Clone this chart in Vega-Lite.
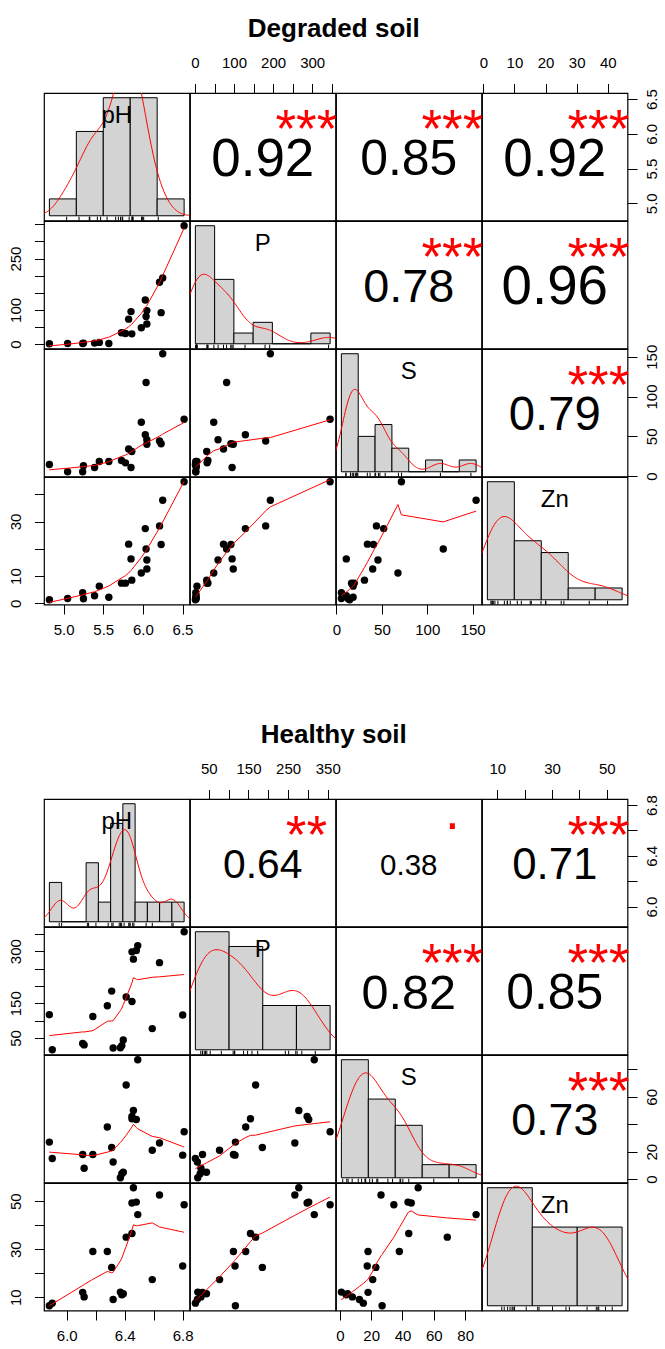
{
"padding": {"left": 7, "top": 15, "right": 5, "bottom": 5},
"spacing": 83,
"datasets": {
"deg": [
{"pH":4.82,"P":1,"S":14.5,"Zn":1.3},{"pH":5.05,"P":2,"S":5.4,"Zn":1.8},{"pH":5.24,"P":2,"S":5.4,"Zn":3.9},{"pH":5.25,"P":3,"S":12.9,"Zn":1.7},{"pH":5.39,"P":3,"S":10.8,"Zn":2.8},{"pH":5.45,"P":5,"S":18.3,"Zn":6.3},{"pH":5.57,"P":2,"S":18.3,"Zn":2.2},{"pH":5.73,"P":33,"S":19.5,"Zn":7.4},{"pH":5.78,"P":31,"S":16.6,"Zn":7.4},{"pH":5.82,"P":73,"S":34.1,"Zn":21.7},{"pH":5.85,"P":95,"S":10.8,"Zn":16.3},{"pH":5.86,"P":30,"S":30.8,"Zn":8.5},{"pH":5.98,"P":48,"S":67.7,"Zn":11.1},{"pH":6.03,"P":129,"S":52,"Zn":27.4},{"pH":6.04,"P":81,"S":117.6,"Zn":19.9},{"pH":6.05,"P":59,"S":45.7,"Zn":15.9},{"pH":6.05,"P":98,"S":39.9,"Zn":12.6},{"pH":6.21,"P":181,"S":44,"Zn":28.4},{"pH":6.23,"P":92,"S":40.7,"Zn":21.6},{"pH":6.25,"P":193,"S":153.8,"Zn":37.8},{"pH":6.52,"P":346,"S":71.5,"Zn":44.6}
],
"hea": [
{"pH":5.88,"P":117,"S":27,"Zn":6.4},{"pH":5.90,"P":16,"S":15,"Zn":7.5},{"pH":6.11,"P":34,"S":18,"Zn":12.0},{"pH":6.12,"P":30,"S":8,"Zn":10.1},{"pH":6.18,"P":112,"S":18,"Zn":29},{"pH":6.28,"P":143,"S":38,"Zn":29},{"pH":6.31,"P":185,"S":23,"Zn":22.4},{"pH":6.32,"P":21,"S":12.5,"Zn":9.0},{"pH":6.37,"P":22,"S":1,"Zn":12.1},{"pH":6.38,"P":28,"S":4,"Zn":11},{"pH":6.39,"P":44,"S":5,"Zn":11.4},{"pH":6.41,"P":168,"S":68.6,"Zn":35},{"pH":6.45,"P":155,"S":44,"Zn":36.5},{"pH":6.45,"P":298,"S":45.6,"Zn":49.2},{"pH":6.46,"P":277,"S":50,"Zn":55.6},{"pH":6.48,"P":302,"S":43.5,"Zn":49.6},{"pH":6.49,"P":316,"S":87,"Zn":44.4},{"pH":6.59,"P":77,"S":21,"Zn":17.3},{"pH":6.64,"P":267,"S":26.3,"Zn":52.6},{"pH":6.80,"P":116,"S":17.5,"Zn":23},{"pH":6.81,"P":356,"S":34.5,"Zn":48.5}
],
"degHist": [
{"v":"pH","b0":4.5,"b1":5.0,"n":1},{"v":"pH","b0":5.0,"b1":5.5,"n":5},{"v":"pH","b0":5.5,"b1":6.0,"n":7},{"v":"pH","b0":6.0,"b1":6.5,"n":7},{"v":"pH","b0":6.5,"b1":7.0,"n":1},
{"v":"P","b0":0,"b1":50,"n":11},{"v":"P","b0":50,"b1":100,"n":6},{"v":"P","b0":100,"b1":150,"n":1},{"v":"P","b0":150,"b1":200,"n":2},{"v":"P","b0":200,"b1":250,"n":0},{"v":"P","b0":250,"b1":300,"n":0},{"v":"P","b0":300,"b1":350,"n":1},
{"v":"S","b0":0,"b1":20,"n":10},{"v":"S","b0":20,"b1":40,"n":3},{"v":"S","b0":40,"b1":60,"n":4},{"v":"S","b0":60,"b1":80,"n":2},{"v":"S","b0":80,"b1":100,"n":0},{"v":"S","b0":100,"b1":120,"n":1},{"v":"S","b0":120,"b1":140,"n":0},{"v":"S","b0":140,"b1":160,"n":1},
{"v":"Zn","b0":0,"b1":10,"n":10},{"v":"Zn","b0":10,"b1":20,"n":5},{"v":"Zn","b0":20,"b1":30,"n":4},{"v":"Zn","b0":30,"b1":40,"n":1},{"v":"Zn","b0":40,"b1":50,"n":1}
],
"heaHist": [
{"v":"pH","b0":5.8,"b1":5.9,"n":2},{"v":"pH","b0":5.9,"b1":6.0,"n":0},{"v":"pH","b0":6.0,"b1":6.1,"n":0},{"v":"pH","b0":6.1,"b1":6.2,"n":3},{"v":"pH","b0":6.2,"b1":6.3,"n":1},{"v":"pH","b0":6.3,"b1":6.4,"n":5},{"v":"pH","b0":6.4,"b1":6.5,"n":6},{"v":"pH","b0":6.5,"b1":6.6,"n":1},{"v":"pH","b0":6.6,"b1":6.7,"n":1},{"v":"pH","b0":6.7,"b1":6.8,"n":1},{"v":"pH","b0":6.8,"b1":6.9,"n":1},
{"v":"P","b0":0,"b1":100,"n":8},{"v":"P","b0":100,"b1":200,"n":7},{"v":"P","b0":200,"b1":300,"n":3},{"v":"P","b0":300,"b1":400,"n":3},
{"v":"S","b0":0,"b1":20,"n":9},{"v":"S","b0":20,"b1":40,"n":6},{"v":"S","b0":40,"b1":60,"n":4},{"v":"S","b0":60,"b1":80,"n":1},{"v":"S","b0":80,"b1":100,"n":1},
{"v":"Zn","b0":0,"b1":20,"n":9},{"v":"Zn","b0":20,"b1":40,"n":6},{"v":"Zn","b0":40,"b1":60,"n":6}
],
"degCor": [
{"a":"pH","b":"P","r":0.92,"sig":"***"},{"a":"pH","b":"S","r":0.85,"sig":"***"},{"a":"pH","b":"Zn","r":0.92,"sig":"***"},{"a":"P","b":"S","r":0.78,"sig":"***"},{"a":"P","b":"Zn","r":0.96,"sig":"***"},{"a":"S","b":"Zn","r":0.79,"sig":"***"}
],
"heaCor": [
{"a":"pH","b":"P","r":0.64,"sig":"**"},{"a":"pH","b":"S","r":0.38,"sig":"."},{"a":"pH","b":"Zn","r":0.71,"sig":"***"},{"a":"P","b":"S","r":0.82,"sig":"***"},{"a":"P","b":"Zn","r":0.85,"sig":"***"},{"a":"S","b":"Zn","r":0.73,"sig":"***"}
]
},
"vconcat": [
{
"title": {"text": "Degraded soil", "offset": 13},
"columns": 4, "spacing": 0, "bounds": "flush",
"concat": [
{"width":145.5,"height":127.5,"layer":[
{"data":{"name":"degHist"},"transform":[{"filter":"datum.v == 'pH'"}],"mark":{"type":"bar","fill":"#D3D3D3","stroke":"#000","strokeWidth":1},"encoding":{"x":{"field":"b0","type":"quantitative","scale":{"domain":[4.4,7.1],"nice":false,"zero":false},"axis":null},"x2":{"field":"b1"},"y":{"field":"n","type":"quantitative","scale":{"domain":[-0.28,7.28],"nice":false,"zero":false},"axis":null},"y2":{"datum":0}}},
{"data":{"name":"deg"},"mark":{"type":"rule","color":"#000","strokeWidth":1},"encoding":{"x":{"field":"pH","type":"quantitative","scale":{"domain":[4.4,7.1],"nice":false,"zero":false},"axis":null},"y":{"datum":-0.28,"type":"quantitative","scale":{"domain":[-0.28,7.28],"nice":false,"zero":false},"axis":null},"y2":{"datum":-0.053}}},
{"data":{"name":"deg"},"transform":[{"density":"pH","bandwidth":0.214,"extent":[4.18,7.16],"steps":200}],"mark":{"type":"line","color":"#FF0000","strokeWidth":1,"clip":true},"encoding":{"x":{"field":"value","type":"quantitative","scale":{"domain":[4.4,7.1],"nice":false,"zero":false},"axis":null},"y":{"field":"density","type":"quantitative","scale":{"domain":[-0.026667,0.693333],"nice":false,"zero":false},"axis":null}}},
{"data":{"name":"degHist"},"transform":[{"filter":"datum.v == 'pH'"},{"aggregate":[{"op":"count","as":"k"}],"groupby":["v"]}],"mark":{"type":"text","font":"Liberation Sans","fontSize":24,"color":"#000","baseline":"middle","align":"center","dy":2},"encoding":{"x":{"datum":0.5,"type":"quantitative","scale":{"domain":[0,1],"nice":false,"zero":false},"axis":null},"y":{"datum":0.833,"type":"quantitative","scale":{"domain":[0,1],"nice":false,"zero":false},"axis":null},"text":{"field":"v"}}}
],"resolve":{"scale":{"x":"independent","y":"independent"}}},
{"width":145.5,"height":127.5,"layer":[
{"data":{"name":"deg"},"mark":{"type":"point","opacity":0},"encoding":{"x":{"field":"P","type":"quantitative","scale":{"domain":[-12.8,359.8],"nice":false,"zero":false},"axis":{"orient":"top","title":null,"values":[0,50,100,150,200,250,300,350],"labelExpr":"indexof([0,100,200,300], datum.value) >= 0 ? datum.label : ''"}}}},
{"data":{"name":"degCor"},"transform":[{"filter":"datum.a == 'pH' && datum.b == 'P'"}],"mark":{"type":"text","font":"Liberation Sans","color":"#000","baseline":"middle","align":"center","dy":3},"encoding":{"x":{"datum":0.5,"type":"quantitative","scale":{"domain":[0,1],"nice":false,"zero":false},"axis":null},"y":{"datum":0.5,"type":"quantitative","scale":{"domain":[0,1],"nice":false,"zero":false},"axis":null},"text":{"field":"r","type":"quantitative","format":".2f"},"size":{"field":"r","type":"quantitative","scale":{"domain":[0,1],"range":[13,56.4]},"legend":null}}},
{"data":{"name":"degCor"},"transform":[{"filter":"datum.a == 'pH' && datum.b == 'P'"}],"mark":{"type":"text","font":"Liberation Sans","color":"#FF0000","fontSize":53,"baseline":"middle","align":"center","dy":12},"encoding":{"x":{"datum":0.8,"type":"quantitative","scale":{"domain":[0,1],"nice":false,"zero":false},"axis":null},"y":{"datum":0.8,"type":"quantitative","scale":{"domain":[0,1],"nice":false,"zero":false},"axis":null},"text":{"field":"sig"}}}
],"resolve":{"scale":{"x":"independent","y":"independent"}}},
{"width":145.5,"height":127.5,"layer":[
{"data":{"name":"degCor"},"transform":[{"filter":"datum.a == 'pH' && datum.b == 'S'"}],"mark":{"type":"text","font":"Liberation Sans","color":"#000","baseline":"middle","align":"center","dy":3},"encoding":{"x":{"datum":0.5,"type":"quantitative","scale":{"domain":[0,1],"nice":false,"zero":false},"axis":null},"y":{"datum":0.5,"type":"quantitative","scale":{"domain":[0,1],"nice":false,"zero":false},"axis":null},"text":{"field":"r","type":"quantitative","format":".2f"},"size":{"field":"r","type":"quantitative","scale":{"domain":[0,1],"range":[13,56.4]},"legend":null}}},
{"data":{"name":"degCor"},"transform":[{"filter":"datum.a == 'pH' && datum.b == 'S'"}],"mark":{"type":"text","font":"Liberation Sans","color":"#FF0000","fontSize":53,"baseline":"middle","align":"center","dy":12},"encoding":{"x":{"datum":0.8,"type":"quantitative","scale":{"domain":[0,1],"nice":false,"zero":false},"axis":null},"y":{"datum":0.8,"type":"quantitative","scale":{"domain":[0,1],"nice":false,"zero":false},"axis":null},"text":{"field":"sig"}}}
],"resolve":{"scale":{"x":"independent","y":"independent"}}},
{"width":145.5,"height":127.5,"layer":[
{"data":{"name":"deg"},"mark":{"type":"point","opacity":0},"encoding":{"x":{"field":"Zn","type":"quantitative","scale":{"domain":[-0.43,46.33],"nice":false,"zero":false},"axis":{"orient":"top","title":null,"values":[0,10,20,30,40]}},"y":{"field":"pH","type":"quantitative","scale":{"domain":[4.752,6.588],"nice":false,"zero":false},"axis":{"orient":"right","title":null,"values":[5,5.5,6,6.5],"format":".1f","labelAngle":-90}}}},
{"data":{"name":"degCor"},"transform":[{"filter":"datum.a == 'pH' && datum.b == 'Zn'"}],"mark":{"type":"text","font":"Liberation Sans","color":"#000","baseline":"middle","align":"center","dy":3},"encoding":{"x":{"datum":0.5,"type":"quantitative","scale":{"domain":[0,1],"nice":false,"zero":false},"axis":null},"y":{"datum":0.5,"type":"quantitative","scale":{"domain":[0,1],"nice":false,"zero":false},"axis":null},"text":{"field":"r","type":"quantitative","format":".2f"},"size":{"field":"r","type":"quantitative","scale":{"domain":[0,1],"range":[13,56.4]},"legend":null}}},
{"data":{"name":"degCor"},"transform":[{"filter":"datum.a == 'pH' && datum.b == 'Zn'"}],"mark":{"type":"text","font":"Liberation Sans","color":"#FF0000","fontSize":53,"baseline":"middle","align":"center","dy":12},"encoding":{"x":{"datum":0.8,"type":"quantitative","scale":{"domain":[0,1],"nice":false,"zero":false},"axis":null},"y":{"datum":0.8,"type":"quantitative","scale":{"domain":[0,1],"nice":false,"zero":false},"axis":null},"text":{"field":"sig"}}}
],"resolve":{"scale":{"x":"independent","y":"independent"}}},

{"width":145.5,"height":127.5,"data":{"name":"deg"},"encoding":{"x":{"field":"pH","type":"quantitative","scale":{"domain":[4.752,6.588],"nice":false,"zero":false},"axis":null},"y":{"field":"P","type":"quantitative","scale":{"domain":[-12.8,359.8],"nice":false,"zero":false},"axis":{"orient":"left","title":null,"values":[0,50,100,150,200,250,300,350],"labelAngle":-90,"labelExpr":"indexof([0,100,250], datum.value) >= 0 ? datum.label : ''"}}},"layer":[
{"mark":{"type":"circle","size":55,"color":"#000","opacity":1}},
{"transform":[{"loess":"P","on":"pH","bandwidth":0.6667}],"mark":{"type":"line","color":"#FF0000","strokeWidth":1,"clip":true}}]},
{"width":145.5,"height":127.5,"layer":[
{"data":{"name":"degHist"},"transform":[{"filter":"datum.v == 'P'"}],"mark":{"type":"bar","fill":"#D3D3D3","stroke":"#000","strokeWidth":1},"encoding":{"x":{"field":"b0","type":"quantitative","scale":{"domain":[-14,364],"nice":false,"zero":false},"axis":null},"x2":{"field":"b1"},"y":{"field":"n","type":"quantitative","scale":{"domain":[-0.44,11.44],"nice":false,"zero":false},"axis":null},"y2":{"datum":0}}},
{"data":{"name":"deg"},"mark":{"type":"rule","color":"#000","strokeWidth":1},"encoding":{"x":{"field":"P","type":"quantitative","scale":{"domain":[-14,364],"nice":false,"zero":false},"axis":null},"y":{"datum":-0.44,"type":"quantitative","scale":{"domain":[-0.44,11.44],"nice":false,"zero":false},"axis":null},"y2":{"datum":-0.084}}},
{"data":{"name":"deg"},"transform":[{"density":"P","bandwidth":33.6,"extent":[-100,447],"steps":200}],"mark":{"type":"line","color":"#FF0000","strokeWidth":1,"clip":true},"encoding":{"x":{"field":"value","type":"quantitative","scale":{"domain":[-14,364],"nice":false,"zero":false},"axis":null},"y":{"field":"density","type":"quantitative","scale":{"domain":[-0.000419,0.0108952],"nice":false,"zero":false},"axis":null}}},
{"data":{"name":"degHist"},"transform":[{"filter":"datum.v == 'P'"},{"aggregate":[{"op":"count","as":"k"}],"groupby":["v"]}],"mark":{"type":"text","font":"Liberation Sans","fontSize":24,"color":"#000","baseline":"middle","align":"center","dy":2},"encoding":{"x":{"datum":0.5,"type":"quantitative","scale":{"domain":[0,1],"nice":false,"zero":false},"axis":null},"y":{"datum":0.833,"type":"quantitative","scale":{"domain":[0,1],"nice":false,"zero":false},"axis":null},"text":{"field":"v"}}}
],"resolve":{"scale":{"x":"independent","y":"independent"}}},
{"width":145.5,"height":127.5,"layer":[
{"data":{"name":"degCor"},"transform":[{"filter":"datum.a == 'P' && datum.b == 'S'"}],"mark":{"type":"text","font":"Liberation Sans","color":"#000","baseline":"middle","align":"center","dy":3},"encoding":{"x":{"datum":0.5,"type":"quantitative","scale":{"domain":[0,1],"nice":false,"zero":false},"axis":null},"y":{"datum":0.5,"type":"quantitative","scale":{"domain":[0,1],"nice":false,"zero":false},"axis":null},"text":{"field":"r","type":"quantitative","format":".2f"},"size":{"field":"r","type":"quantitative","scale":{"domain":[0,1],"range":[13,56.4]},"legend":null}}},
{"data":{"name":"degCor"},"transform":[{"filter":"datum.a == 'P' && datum.b == 'S'"}],"mark":{"type":"text","font":"Liberation Sans","color":"#FF0000","fontSize":53,"baseline":"middle","align":"center","dy":12},"encoding":{"x":{"datum":0.8,"type":"quantitative","scale":{"domain":[0,1],"nice":false,"zero":false},"axis":null},"y":{"datum":0.8,"type":"quantitative","scale":{"domain":[0,1],"nice":false,"zero":false},"axis":null},"text":{"field":"sig"}}}
],"resolve":{"scale":{"x":"independent","y":"independent"}}},
{"width":145.5,"height":127.5,"layer":[
{"data":{"name":"degCor"},"transform":[{"filter":"datum.a == 'P' && datum.b == 'Zn'"}],"mark":{"type":"text","font":"Liberation Sans","color":"#000","baseline":"middle","align":"center","dy":3},"encoding":{"x":{"datum":0.5,"type":"quantitative","scale":{"domain":[0,1],"nice":false,"zero":false},"axis":null},"y":{"datum":0.5,"type":"quantitative","scale":{"domain":[0,1],"nice":false,"zero":false},"axis":null},"text":{"field":"r","type":"quantitative","format":".2f"},"size":{"field":"r","type":"quantitative","scale":{"domain":[0,1],"range":[13,56.4]},"legend":null}}},
{"data":{"name":"degCor"},"transform":[{"filter":"datum.a == 'P' && datum.b == 'Zn'"}],"mark":{"type":"text","font":"Liberation Sans","color":"#FF0000","fontSize":53,"baseline":"middle","align":"center","dy":12},"encoding":{"x":{"datum":0.8,"type":"quantitative","scale":{"domain":[0,1],"nice":false,"zero":false},"axis":null},"y":{"datum":0.8,"type":"quantitative","scale":{"domain":[0,1],"nice":false,"zero":false},"axis":null},"text":{"field":"sig"}}}
],"resolve":{"scale":{"x":"independent","y":"independent"}}},

{"width":145.5,"height":127.5,"data":{"name":"deg"},"encoding":{"x":{"field":"pH","type":"quantitative","scale":{"domain":[4.752,6.588],"nice":false,"zero":false},"axis":null},"y":{"field":"S","type":"quantitative","scale":{"domain":[-0.54,159.74],"nice":false,"zero":false},"axis":null}},"layer":[
{"mark":{"type":"circle","size":55,"color":"#000","opacity":1}},
{"transform":[{"loess":"S","on":"pH","bandwidth":0.6667}],"mark":{"type":"line","color":"#FF0000","strokeWidth":1,"clip":true}}]},
{"width":145.5,"height":127.5,"data":{"name":"deg"},"encoding":{"x":{"field":"P","type":"quantitative","scale":{"domain":[-12.8,359.8],"nice":false,"zero":false},"axis":null},"y":{"field":"S","type":"quantitative","scale":{"domain":[-0.54,159.74],"nice":false,"zero":false},"axis":null}},"layer":[
{"mark":{"type":"circle","size":55,"color":"#000","opacity":1}},
{"transform":[{"loess":"S","on":"P","bandwidth":0.6667}],"mark":{"type":"line","color":"#FF0000","strokeWidth":1,"clip":true}}]},
{"width":145.5,"height":127.5,"layer":[
{"data":{"name":"degHist"},"transform":[{"filter":"datum.v == 'S'"}],"mark":{"type":"bar","fill":"#D3D3D3","stroke":"#000","strokeWidth":1},"encoding":{"x":{"field":"b0","type":"quantitative","scale":{"domain":[-6.4,166.4],"nice":false,"zero":false},"axis":null},"x2":{"field":"b1"},"y":{"field":"n","type":"quantitative","scale":{"domain":[-0.4,10.4],"nice":false,"zero":false},"axis":null},"y2":{"datum":0}}},
{"data":{"name":"deg"},"mark":{"type":"rule","color":"#000","strokeWidth":1},"encoding":{"x":{"field":"S","type":"quantitative","scale":{"domain":[-6.4,166.4],"nice":false,"zero":false},"axis":null},"y":{"datum":-0.4,"type":"quantitative","scale":{"domain":[-0.4,10.4],"nice":false,"zero":false},"axis":null},"y2":{"datum":-0.076}}},
{"data":{"name":"deg"},"transform":[{"density":"S","bandwidth":11.4,"extent":[-29,188],"steps":200}],"mark":{"type":"line","color":"#FF0000","strokeWidth":1,"clip":true},"encoding":{"x":{"field":"value","type":"quantitative","scale":{"domain":[-6.4,166.4],"nice":false,"zero":false},"axis":null},"y":{"field":"density","type":"quantitative","scale":{"domain":[-0.000952,0.0247619],"nice":false,"zero":false},"axis":null}}},
{"data":{"name":"degHist"},"transform":[{"filter":"datum.v == 'S'"},{"aggregate":[{"op":"count","as":"k"}],"groupby":["v"]}],"mark":{"type":"text","font":"Liberation Sans","fontSize":24,"color":"#000","baseline":"middle","align":"center","dy":2},"encoding":{"x":{"datum":0.5,"type":"quantitative","scale":{"domain":[0,1],"nice":false,"zero":false},"axis":null},"y":{"datum":0.833,"type":"quantitative","scale":{"domain":[0,1],"nice":false,"zero":false},"axis":null},"text":{"field":"v"}}}
],"resolve":{"scale":{"x":"independent","y":"independent"}}},
{"width":145.5,"height":127.5,"layer":[
{"data":{"name":"deg"},"mark":{"type":"point","opacity":0},"encoding":{"y":{"field":"S","type":"quantitative","scale":{"domain":[-0.54,159.74],"nice":false,"zero":false},"axis":{"orient":"right","title":null,"values":[0,50,100,150],"labelAngle":-90}}}},
{"data":{"name":"degCor"},"transform":[{"filter":"datum.a == 'S' && datum.b == 'Zn'"}],"mark":{"type":"text","font":"Liberation Sans","color":"#000","baseline":"middle","align":"center","dy":3},"encoding":{"x":{"datum":0.5,"type":"quantitative","scale":{"domain":[0,1],"nice":false,"zero":false},"axis":null},"y":{"datum":0.5,"type":"quantitative","scale":{"domain":[0,1],"nice":false,"zero":false},"axis":null},"text":{"field":"r","type":"quantitative","format":".2f"},"size":{"field":"r","type":"quantitative","scale":{"domain":[0,1],"range":[13,56.4]},"legend":null}}},
{"data":{"name":"degCor"},"transform":[{"filter":"datum.a == 'S' && datum.b == 'Zn'"}],"mark":{"type":"text","font":"Liberation Sans","color":"#FF0000","fontSize":53,"baseline":"middle","align":"center","dy":12},"encoding":{"x":{"datum":0.8,"type":"quantitative","scale":{"domain":[0,1],"nice":false,"zero":false},"axis":null},"y":{"datum":0.8,"type":"quantitative","scale":{"domain":[0,1],"nice":false,"zero":false},"axis":null},"text":{"field":"sig"}}}
],"resolve":{"scale":{"x":"independent","y":"independent"}}},

{"width":145.5,"height":127.5,"data":{"name":"deg"},"encoding":{"x":{"field":"pH","type":"quantitative","scale":{"domain":[4.752,6.588],"nice":false,"zero":false},"axis":{"orient":"bottom","title":null,"values":[5,5.5,6,6.5],"format":".1f"}},"y":{"field":"Zn","type":"quantitative","scale":{"domain":[-0.43,46.33],"nice":false,"zero":false},"axis":{"orient":"left","title":null,"values":[0,10,20,30,40],"labelAngle":-90,"labelExpr":"indexof([0,10,30], datum.value) >= 0 ? datum.label : ''"}}},"layer":[
{"mark":{"type":"circle","size":55,"color":"#000","opacity":1}},
{"transform":[{"loess":"Zn","on":"pH","bandwidth":0.6667}],"mark":{"type":"line","color":"#FF0000","strokeWidth":1,"clip":true}}]},
{"width":145.5,"height":127.5,"data":{"name":"deg"},"encoding":{"x":{"field":"P","type":"quantitative","scale":{"domain":[-12.8,359.8],"nice":false,"zero":false},"axis":null},"y":{"field":"Zn","type":"quantitative","scale":{"domain":[-0.43,46.33],"nice":false,"zero":false},"axis":null}},"layer":[
{"mark":{"type":"circle","size":55,"color":"#000","opacity":1}},
{"transform":[{"loess":"Zn","on":"P","bandwidth":0.6667}],"mark":{"type":"line","color":"#FF0000","strokeWidth":1,"clip":true}}]},
{"width":145.5,"height":127.5,"data":{"name":"deg"},"encoding":{"x":{"field":"S","type":"quantitative","scale":{"domain":[-0.54,159.74],"nice":false,"zero":false},"axis":{"orient":"bottom","title":null,"values":[0,50,100,150]}},"y":{"field":"Zn","type":"quantitative","scale":{"domain":[-0.43,46.33],"nice":false,"zero":false},"axis":null}},"layer":[
{"mark":{"type":"circle","size":55,"color":"#000","opacity":1}},
{"transform":[{"loess":"Zn","on":"S","bandwidth":0.6667}],"mark":{"type":"line","color":"#FF0000","strokeWidth":1,"clip":true}}]},
{"width":145.5,"height":127.5,"layer":[
{"data":{"name":"degHist"},"transform":[{"filter":"datum.v == 'Zn'"}],"mark":{"type":"bar","fill":"#D3D3D3","stroke":"#000","strokeWidth":1},"encoding":{"x":{"field":"b0","type":"quantitative","scale":{"domain":[-2,52],"nice":false,"zero":false},"axis":null},"x2":{"field":"b1"},"y":{"field":"n","type":"quantitative","scale":{"domain":[-0.4,10.4],"nice":false,"zero":false},"axis":null},"y2":{"datum":0}}},
{"data":{"name":"deg"},"mark":{"type":"rule","color":"#000","strokeWidth":1},"encoding":{"x":{"field":"Zn","type":"quantitative","scale":{"domain":[-2,52],"nice":false,"zero":false},"axis":null},"y":{"datum":-0.4,"type":"quantitative","scale":{"domain":[-0.4,10.4],"nice":false,"zero":false},"axis":null},"y2":{"datum":-0.076}}},
{"data":{"name":"deg"},"transform":[{"density":"Zn","bandwidth":6.06,"extent":[-17,63],"steps":200}],"mark":{"type":"line","color":"#FF0000","strokeWidth":1,"clip":true},"encoding":{"x":{"field":"value","type":"quantitative","scale":{"domain":[-2,52],"nice":false,"zero":false},"axis":null},"y":{"field":"density","type":"quantitative","scale":{"domain":[-0.001905,0.0495238],"nice":false,"zero":false},"axis":null}}},
{"data":{"name":"degHist"},"transform":[{"filter":"datum.v == 'Zn'"},{"aggregate":[{"op":"count","as":"k"}],"groupby":["v"]}],"mark":{"type":"text","font":"Liberation Sans","fontSize":24,"color":"#000","baseline":"middle","align":"center","dy":2},"encoding":{"x":{"datum":0.5,"type":"quantitative","scale":{"domain":[0,1],"nice":false,"zero":false},"axis":null},"y":{"datum":0.833,"type":"quantitative","scale":{"domain":[0,1],"nice":false,"zero":false},"axis":null},"text":{"field":"v"}}}
],"resolve":{"scale":{"x":"independent","y":"independent"}}}
]
},
{
"title": {"text": "Healthy soil", "offset": 13},
"columns": 4, "spacing": 0, "bounds": "flush",
"concat": [
{"width":145.5,"height":127.5,"layer":[
{"data":{"name":"heaHist"},"transform":[{"filter":"datum.v == 'pH'"}],"mark":{"type":"bar","fill":"#D3D3D3","stroke":"#000","strokeWidth":1},"encoding":{"x":{"field":"b0","type":"quantitative","scale":{"domain":[5.756,6.944],"nice":false,"zero":false},"axis":null},"x2":{"field":"b1"},"y":{"field":"n","type":"quantitative","scale":{"domain":[-0.24,6.24],"nice":false,"zero":false},"axis":null},"y2":{"datum":0}}},
{"data":{"name":"hea"},"mark":{"type":"rule","color":"#000","strokeWidth":1},"encoding":{"x":{"field":"pH","type":"quantitative","scale":{"domain":[5.756,6.944],"nice":false,"zero":false},"axis":null},"y":{"datum":-0.24,"type":"quantitative","scale":{"domain":[-0.24,6.24],"nice":false,"zero":false},"axis":null},"y2":{"datum":-0.046}}},
{"data":{"name":"hea"},"transform":[{"density":"pH","bandwidth":0.073,"extent":[5.66,7.03],"steps":200}],"mark":{"type":"line","color":"#FF0000","strokeWidth":1,"clip":true},"encoding":{"x":{"field":"value","type":"quantitative","scale":{"domain":[5.756,6.944],"nice":false,"zero":false},"axis":null},"y":{"field":"density","type":"quantitative","scale":{"domain":[-0.114286,2.971429],"nice":false,"zero":false},"axis":null}}},
{"data":{"name":"heaHist"},"transform":[{"filter":"datum.v == 'pH'"},{"aggregate":[{"op":"count","as":"k"}],"groupby":["v"]}],"mark":{"type":"text","font":"Liberation Sans","fontSize":24,"color":"#000","baseline":"middle","align":"center","dy":2},"encoding":{"x":{"datum":0.5,"type":"quantitative","scale":{"domain":[0,1],"nice":false,"zero":false},"axis":null},"y":{"datum":0.833,"type":"quantitative","scale":{"domain":[0,1],"nice":false,"zero":false},"axis":null},"text":{"field":"v"}}}
],"resolve":{"scale":{"x":"independent","y":"independent"}}},
{"width":145.5,"height":127.5,"layer":[
{"data":{"name":"hea"},"mark":{"type":"point","opacity":0},"encoding":{"x":{"field":"P","type":"quantitative","scale":{"domain":[2.4,369.6],"nice":false,"zero":false},"axis":{"orient":"top","title":null,"values":[50,100,150,200,250,300,350],"labelExpr":"indexof([50,150,250,350], datum.value) >= 0 ? datum.label : ''"}}}},
{"data":{"name":"heaCor"},"transform":[{"filter":"datum.a == 'pH' && datum.b == 'P'"}],"mark":{"type":"text","font":"Liberation Sans","color":"#000","baseline":"middle","align":"center","dy":3},"encoding":{"x":{"datum":0.5,"type":"quantitative","scale":{"domain":[0,1],"nice":false,"zero":false},"axis":null},"y":{"datum":0.5,"type":"quantitative","scale":{"domain":[0,1],"nice":false,"zero":false},"axis":null},"text":{"field":"r","type":"quantitative","format":".2f"},"size":{"field":"r","type":"quantitative","scale":{"domain":[0,1],"range":[13,56.4]},"legend":null}}},
{"data":{"name":"heaCor"},"transform":[{"filter":"datum.a == 'pH' && datum.b == 'P'"}],"mark":{"type":"text","font":"Liberation Sans","color":"#FF0000","fontSize":53,"baseline":"middle","align":"center","dy":12},"encoding":{"x":{"datum":0.8,"type":"quantitative","scale":{"domain":[0,1],"nice":false,"zero":false},"axis":null},"y":{"datum":0.8,"type":"quantitative","scale":{"domain":[0,1],"nice":false,"zero":false},"axis":null},"text":{"field":"sig"}}}
],"resolve":{"scale":{"x":"independent","y":"independent"}}},
{"width":145.5,"height":127.5,"layer":[
{"data":{"name":"heaCor"},"transform":[{"filter":"datum.a == 'pH' && datum.b == 'S'"}],"mark":{"type":"text","font":"Liberation Sans","color":"#000","baseline":"middle","align":"center","dy":3},"encoding":{"x":{"datum":0.5,"type":"quantitative","scale":{"domain":[0,1],"nice":false,"zero":false},"axis":null},"y":{"datum":0.5,"type":"quantitative","scale":{"domain":[0,1],"nice":false,"zero":false},"axis":null},"text":{"field":"r","type":"quantitative","format":".2f"},"size":{"field":"r","type":"quantitative","scale":{"domain":[0,1],"range":[13,56.4]},"legend":null}}},
{"data":{"name":"heaCor"},"transform":[{"filter":"datum.a == 'pH' && datum.b == 'S'"}],"mark":{"type":"text","font":"Liberation Sans","color":"#FF0000","fontSize":53,"baseline":"middle","align":"center","dy":-12},"encoding":{"x":{"datum":0.8,"type":"quantitative","scale":{"domain":[0,1],"nice":false,"zero":false},"axis":null},"y":{"datum":0.8,"type":"quantitative","scale":{"domain":[0,1],"nice":false,"zero":false},"axis":null},"text":{"field":"sig"}}}
],"resolve":{"scale":{"x":"independent","y":"independent"}}},
{"width":145.5,"height":127.5,"layer":[
{"data":{"name":"hea"},"mark":{"type":"point","opacity":0},"encoding":{"x":{"field":"Zn","type":"quantitative","scale":{"domain":[4.43,57.57],"nice":false,"zero":false},"axis":{"orient":"top","title":null,"values":[10,20,30,40,50],"labelExpr":"indexof([10,30,50], datum.value) >= 0 ? datum.label : ''"}},"y":{"field":"pH","type":"quantitative","scale":{"domain":[5.843,6.847],"nice":false,"zero":false},"axis":{"orient":"right","title":null,"values":[6,6.2,6.4,6.6,6.8],"format":".1f","labelAngle":-90,"labelExpr":"indexof([6,6.4,6.8], datum.value) >= 0 ? datum.label : ''"}}}},
{"data":{"name":"heaCor"},"transform":[{"filter":"datum.a == 'pH' && datum.b == 'Zn'"}],"mark":{"type":"text","font":"Liberation Sans","color":"#000","baseline":"middle","align":"center","dy":3},"encoding":{"x":{"datum":0.5,"type":"quantitative","scale":{"domain":[0,1],"nice":false,"zero":false},"axis":null},"y":{"datum":0.5,"type":"quantitative","scale":{"domain":[0,1],"nice":false,"zero":false},"axis":null},"text":{"field":"r","type":"quantitative","format":".2f"},"size":{"field":"r","type":"quantitative","scale":{"domain":[0,1],"range":[13,56.4]},"legend":null}}},
{"data":{"name":"heaCor"},"transform":[{"filter":"datum.a == 'pH' && datum.b == 'Zn'"}],"mark":{"type":"text","font":"Liberation Sans","color":"#FF0000","fontSize":53,"baseline":"middle","align":"center","dy":12},"encoding":{"x":{"datum":0.8,"type":"quantitative","scale":{"domain":[0,1],"nice":false,"zero":false},"axis":null},"y":{"datum":0.8,"type":"quantitative","scale":{"domain":[0,1],"nice":false,"zero":false},"axis":null},"text":{"field":"sig"}}}
],"resolve":{"scale":{"x":"independent","y":"independent"}}},

{"width":145.5,"height":127.5,"data":{"name":"hea"},"encoding":{"x":{"field":"pH","type":"quantitative","scale":{"domain":[5.843,6.847],"nice":false,"zero":false},"axis":null},"y":{"field":"P","type":"quantitative","scale":{"domain":[2.4,369.6],"nice":false,"zero":false},"axis":{"orient":"left","title":null,"values":[50,100,150,200,250,300,350],"labelAngle":-90,"labelExpr":"indexof([50,150,300], datum.value) >= 0 ? datum.label : ''"}}},"layer":[
{"mark":{"type":"circle","size":55,"color":"#000","opacity":1}},
{"transform":[{"loess":"P","on":"pH","bandwidth":0.6667}],"mark":{"type":"line","color":"#FF0000","strokeWidth":1,"clip":true}}]},
{"width":145.5,"height":127.5,"layer":[
{"data":{"name":"heaHist"},"transform":[{"filter":"datum.v == 'P'"}],"mark":{"type":"bar","fill":"#D3D3D3","stroke":"#000","strokeWidth":1},"encoding":{"x":{"field":"b0","type":"quantitative","scale":{"domain":[-16,416],"nice":false,"zero":false},"axis":null},"x2":{"field":"b1"},"y":{"field":"n","type":"quantitative","scale":{"domain":[-0.32,8.32],"nice":false,"zero":false},"axis":null},"y2":{"datum":0}}},
{"data":{"name":"hea"},"mark":{"type":"rule","color":"#000","strokeWidth":1},"encoding":{"x":{"field":"P","type":"quantitative","scale":{"domain":[-16,416],"nice":false,"zero":false},"axis":null},"y":{"datum":-0.32,"type":"quantitative","scale":{"domain":[-0.32,8.32],"nice":false,"zero":false},"axis":null},"y2":{"datum":-0.061}}},
{"data":{"name":"hea"},"transform":[{"density":"P","bandwidth":55.8,"extent":[-152,524],"steps":200}],"mark":{"type":"line","color":"#FF0000","strokeWidth":1,"clip":true},"encoding":{"x":{"field":"value","type":"quantitative","scale":{"domain":[-16,416],"nice":false,"zero":false},"axis":null},"y":{"field":"density","type":"quantitative","scale":{"domain":[-0.000152,0.0039619],"nice":false,"zero":false},"axis":null}}},
{"data":{"name":"heaHist"},"transform":[{"filter":"datum.v == 'P'"},{"aggregate":[{"op":"count","as":"k"}],"groupby":["v"]}],"mark":{"type":"text","font":"Liberation Sans","fontSize":24,"color":"#000","baseline":"middle","align":"center","dy":2},"encoding":{"x":{"datum":0.5,"type":"quantitative","scale":{"domain":[0,1],"nice":false,"zero":false},"axis":null},"y":{"datum":0.833,"type":"quantitative","scale":{"domain":[0,1],"nice":false,"zero":false},"axis":null},"text":{"field":"v"}}}
],"resolve":{"scale":{"x":"independent","y":"independent"}}},
{"width":145.5,"height":127.5,"layer":[
{"data":{"name":"heaCor"},"transform":[{"filter":"datum.a == 'P' && datum.b == 'S'"}],"mark":{"type":"text","font":"Liberation Sans","color":"#000","baseline":"middle","align":"center","dy":3},"encoding":{"x":{"datum":0.5,"type":"quantitative","scale":{"domain":[0,1],"nice":false,"zero":false},"axis":null},"y":{"datum":0.5,"type":"quantitative","scale":{"domain":[0,1],"nice":false,"zero":false},"axis":null},"text":{"field":"r","type":"quantitative","format":".2f"},"size":{"field":"r","type":"quantitative","scale":{"domain":[0,1],"range":[13,56.4]},"legend":null}}},
{"data":{"name":"heaCor"},"transform":[{"filter":"datum.a == 'P' && datum.b == 'S'"}],"mark":{"type":"text","font":"Liberation Sans","color":"#FF0000","fontSize":53,"baseline":"middle","align":"center","dy":12},"encoding":{"x":{"datum":0.8,"type":"quantitative","scale":{"domain":[0,1],"nice":false,"zero":false},"axis":null},"y":{"datum":0.8,"type":"quantitative","scale":{"domain":[0,1],"nice":false,"zero":false},"axis":null},"text":{"field":"sig"}}}
],"resolve":{"scale":{"x":"independent","y":"independent"}}},
{"width":145.5,"height":127.5,"layer":[
{"data":{"name":"heaCor"},"transform":[{"filter":"datum.a == 'P' && datum.b == 'Zn'"}],"mark":{"type":"text","font":"Liberation Sans","color":"#000","baseline":"middle","align":"center","dy":3},"encoding":{"x":{"datum":0.5,"type":"quantitative","scale":{"domain":[0,1],"nice":false,"zero":false},"axis":null},"y":{"datum":0.5,"type":"quantitative","scale":{"domain":[0,1],"nice":false,"zero":false},"axis":null},"text":{"field":"r","type":"quantitative","format":".2f"},"size":{"field":"r","type":"quantitative","scale":{"domain":[0,1],"range":[13,56.4]},"legend":null}}},
{"data":{"name":"heaCor"},"transform":[{"filter":"datum.a == 'P' && datum.b == 'Zn'"}],"mark":{"type":"text","font":"Liberation Sans","color":"#FF0000","fontSize":53,"baseline":"middle","align":"center","dy":12},"encoding":{"x":{"datum":0.8,"type":"quantitative","scale":{"domain":[0,1],"nice":false,"zero":false},"axis":null},"y":{"datum":0.8,"type":"quantitative","scale":{"domain":[0,1],"nice":false,"zero":false},"axis":null},"text":{"field":"sig"}}}
],"resolve":{"scale":{"x":"independent","y":"independent"}}},

{"width":145.5,"height":127.5,"data":{"name":"hea"},"encoding":{"x":{"field":"pH","type":"quantitative","scale":{"domain":[5.843,6.847],"nice":false,"zero":false},"axis":null},"y":{"field":"S","type":"quantitative","scale":{"domain":[-2.44,90.44],"nice":false,"zero":false},"axis":null}},"layer":[
{"mark":{"type":"circle","size":55,"color":"#000","opacity":1}},
{"transform":[{"loess":"S","on":"pH","bandwidth":0.6667}],"mark":{"type":"line","color":"#FF0000","strokeWidth":1,"clip":true}}]},
{"width":145.5,"height":127.5,"data":{"name":"hea"},"encoding":{"x":{"field":"P","type":"quantitative","scale":{"domain":[2.4,369.6],"nice":false,"zero":false},"axis":null},"y":{"field":"S","type":"quantitative","scale":{"domain":[-2.44,90.44],"nice":false,"zero":false},"axis":null}},"layer":[
{"mark":{"type":"circle","size":55,"color":"#000","opacity":1}},
{"transform":[{"loess":"S","on":"P","bandwidth":0.6667}],"mark":{"type":"line","color":"#FF0000","strokeWidth":1,"clip":true}}]},
{"width":145.5,"height":127.5,"layer":[
{"data":{"name":"heaHist"},"transform":[{"filter":"datum.v == 'S'"}],"mark":{"type":"bar","fill":"#D3D3D3","stroke":"#000","strokeWidth":1},"encoding":{"x":{"field":"b0","type":"quantitative","scale":{"domain":[-4,104],"nice":false,"zero":false},"axis":null},"x2":{"field":"b1"},"y":{"field":"n","type":"quantitative","scale":{"domain":[-0.36,9.36],"nice":false,"zero":false},"axis":null},"y2":{"datum":0}}},
{"data":{"name":"hea"},"mark":{"type":"rule","color":"#000","strokeWidth":1},"encoding":{"x":{"field":"S","type":"quantitative","scale":{"domain":[-4,104],"nice":false,"zero":false},"axis":null},"y":{"datum":-0.36,"type":"quantitative","scale":{"domain":[-0.36,9.36],"nice":false,"zero":false},"axis":null},"y2":{"datum":-0.068}}},
{"data":{"name":"hea"},"transform":[{"density":"S","bandwidth":10.4,"extent":[-30,119],"steps":200}],"mark":{"type":"line","color":"#FF0000","strokeWidth":1,"clip":true},"encoding":{"x":{"field":"value","type":"quantitative","scale":{"domain":[-4,104],"nice":false,"zero":false},"axis":null},"y":{"field":"density","type":"quantitative","scale":{"domain":[-0.000857,0.0222857],"nice":false,"zero":false},"axis":null}}},
{"data":{"name":"heaHist"},"transform":[{"filter":"datum.v == 'S'"},{"aggregate":[{"op":"count","as":"k"}],"groupby":["v"]}],"mark":{"type":"text","font":"Liberation Sans","fontSize":24,"color":"#000","baseline":"middle","align":"center","dy":2},"encoding":{"x":{"datum":0.5,"type":"quantitative","scale":{"domain":[0,1],"nice":false,"zero":false},"axis":null},"y":{"datum":0.833,"type":"quantitative","scale":{"domain":[0,1],"nice":false,"zero":false},"axis":null},"text":{"field":"v"}}}
],"resolve":{"scale":{"x":"independent","y":"independent"}}},
{"width":145.5,"height":127.5,"layer":[
{"data":{"name":"hea"},"mark":{"type":"point","opacity":0},"encoding":{"y":{"field":"S","type":"quantitative","scale":{"domain":[-2.44,90.44],"nice":false,"zero":false},"axis":{"orient":"right","title":null,"values":[0,20,40,60,80],"labelAngle":-90,"labelExpr":"indexof([0,20,60], datum.value) >= 0 ? datum.label : ''"}}}},
{"data":{"name":"heaCor"},"transform":[{"filter":"datum.a == 'S' && datum.b == 'Zn'"}],"mark":{"type":"text","font":"Liberation Sans","color":"#000","baseline":"middle","align":"center","dy":3},"encoding":{"x":{"datum":0.5,"type":"quantitative","scale":{"domain":[0,1],"nice":false,"zero":false},"axis":null},"y":{"datum":0.5,"type":"quantitative","scale":{"domain":[0,1],"nice":false,"zero":false},"axis":null},"text":{"field":"r","type":"quantitative","format":".2f"},"size":{"field":"r","type":"quantitative","scale":{"domain":[0,1],"range":[13,56.4]},"legend":null}}},
{"data":{"name":"heaCor"},"transform":[{"filter":"datum.a == 'S' && datum.b == 'Zn'"}],"mark":{"type":"text","font":"Liberation Sans","color":"#FF0000","fontSize":53,"baseline":"middle","align":"center","dy":12},"encoding":{"x":{"datum":0.8,"type":"quantitative","scale":{"domain":[0,1],"nice":false,"zero":false},"axis":null},"y":{"datum":0.8,"type":"quantitative","scale":{"domain":[0,1],"nice":false,"zero":false},"axis":null},"text":{"field":"sig"}}}
],"resolve":{"scale":{"x":"independent","y":"independent"}}},

{"width":145.5,"height":127.5,"data":{"name":"hea"},"encoding":{"x":{"field":"pH","type":"quantitative","scale":{"domain":[5.843,6.847],"nice":false,"zero":false},"axis":{"orient":"bottom","title":null,"values":[6,6.2,6.4,6.6,6.8],"format":".1f","labelExpr":"indexof([6,6.4,6.8], datum.value) >= 0 ? datum.label : ''"}},"y":{"field":"Zn","type":"quantitative","scale":{"domain":[4.43,57.57],"nice":false,"zero":false},"axis":{"orient":"left","title":null,"values":[10,20,30,40,50],"labelAngle":-90,"labelExpr":"indexof([10,30,50], datum.value) >= 0 ? datum.label : ''"}}},"layer":[
{"mark":{"type":"circle","size":55,"color":"#000","opacity":1}},
{"transform":[{"loess":"Zn","on":"pH","bandwidth":0.6667}],"mark":{"type":"line","color":"#FF0000","strokeWidth":1,"clip":true}}]},
{"width":145.5,"height":127.5,"data":{"name":"hea"},"encoding":{"x":{"field":"P","type":"quantitative","scale":{"domain":[2.4,369.6],"nice":false,"zero":false},"axis":null},"y":{"field":"Zn","type":"quantitative","scale":{"domain":[4.43,57.57],"nice":false,"zero":false},"axis":null}},"layer":[
{"mark":{"type":"circle","size":55,"color":"#000","opacity":1}},
{"transform":[{"loess":"Zn","on":"P","bandwidth":0.6667}],"mark":{"type":"line","color":"#FF0000","strokeWidth":1,"clip":true}}]},
{"width":145.5,"height":127.5,"data":{"name":"hea"},"encoding":{"x":{"field":"S","type":"quantitative","scale":{"domain":[-2.44,90.44],"nice":false,"zero":false},"axis":{"orient":"bottom","title":null,"values":[0,20,40,60,80]}},"y":{"field":"Zn","type":"quantitative","scale":{"domain":[4.43,57.57],"nice":false,"zero":false},"axis":null}},"layer":[
{"mark":{"type":"circle","size":55,"color":"#000","opacity":1}},
{"transform":[{"loess":"Zn","on":"S","bandwidth":0.6667}],"mark":{"type":"line","color":"#FF0000","strokeWidth":1,"clip":true}}]},
{"width":145.5,"height":127.5,"layer":[
{"data":{"name":"heaHist"},"transform":[{"filter":"datum.v == 'Zn'"}],"mark":{"type":"bar","fill":"#D3D3D3","stroke":"#000","strokeWidth":1},"encoding":{"x":{"field":"b0","type":"quantitative","scale":{"domain":[-2.4,62.4],"nice":false,"zero":false},"axis":null},"x2":{"field":"b1"},"y":{"field":"n","type":"quantitative","scale":{"domain":[-0.36,9.36],"nice":false,"zero":false},"axis":null},"y2":{"datum":0}}},
{"data":{"name":"hea"},"mark":{"type":"rule","color":"#000","strokeWidth":1},"encoding":{"x":{"field":"Zn","type":"quantitative","scale":{"domain":[-2.4,62.4],"nice":false,"zero":false},"axis":null},"y":{"datum":-0.36,"type":"quantitative","scale":{"domain":[-0.36,9.36],"nice":false,"zero":false},"axis":null},"y2":{"datum":-0.068}}},
{"data":{"name":"hea"},"transform":[{"density":"Zn","bandwidth":8.4,"extent":[-19,81],"steps":200}],"mark":{"type":"line","color":"#FF0000","strokeWidth":1,"clip":true},"encoding":{"x":{"field":"value","type":"quantitative","scale":{"domain":[-2.4,62.4],"nice":false,"zero":false},"axis":null},"y":{"field":"density","type":"quantitative","scale":{"domain":[-0.000857,0.0222857],"nice":false,"zero":false},"axis":null}}},
{"data":{"name":"heaHist"},"transform":[{"filter":"datum.v == 'Zn'"},{"aggregate":[{"op":"count","as":"k"}],"groupby":["v"]}],"mark":{"type":"text","font":"Liberation Sans","fontSize":24,"color":"#000","baseline":"middle","align":"center","dy":2},"encoding":{"x":{"datum":0.5,"type":"quantitative","scale":{"domain":[0,1],"nice":false,"zero":false},"axis":null},"y":{"datum":0.833,"type":"quantitative","scale":{"domain":[0,1],"nice":false,"zero":false},"axis":null},"text":{"field":"v"}}}
],"resolve":{"scale":{"x":"independent","y":"independent"}}}
]
}
],
"config": {
"font": "Liberation Sans",
"view": {"stroke": "#000", "strokeWidth": 1.2},
"axis": {"domain": false, "grid": false, "ticks": true, "tickColor": "#000", "tickSize": 9.5, "tickWidth": 1, "labelFont": "Liberation Sans", "labelFontSize": 15, "labelColor": "#000", "labelOverlap": false, "labelFlush": false},
"axisTop": {"labelPadding": 13},
"axisBottom": {"labelPadding": 8},
"axisLeft": {"labelPadding": 11.5},
"axisRight": {"labelPadding": 7.5},
"title": {"font": "Liberation Sans", "fontSize": 26, "fontWeight": "bold", "color": "#000", "anchor": "middle"}
}
}
